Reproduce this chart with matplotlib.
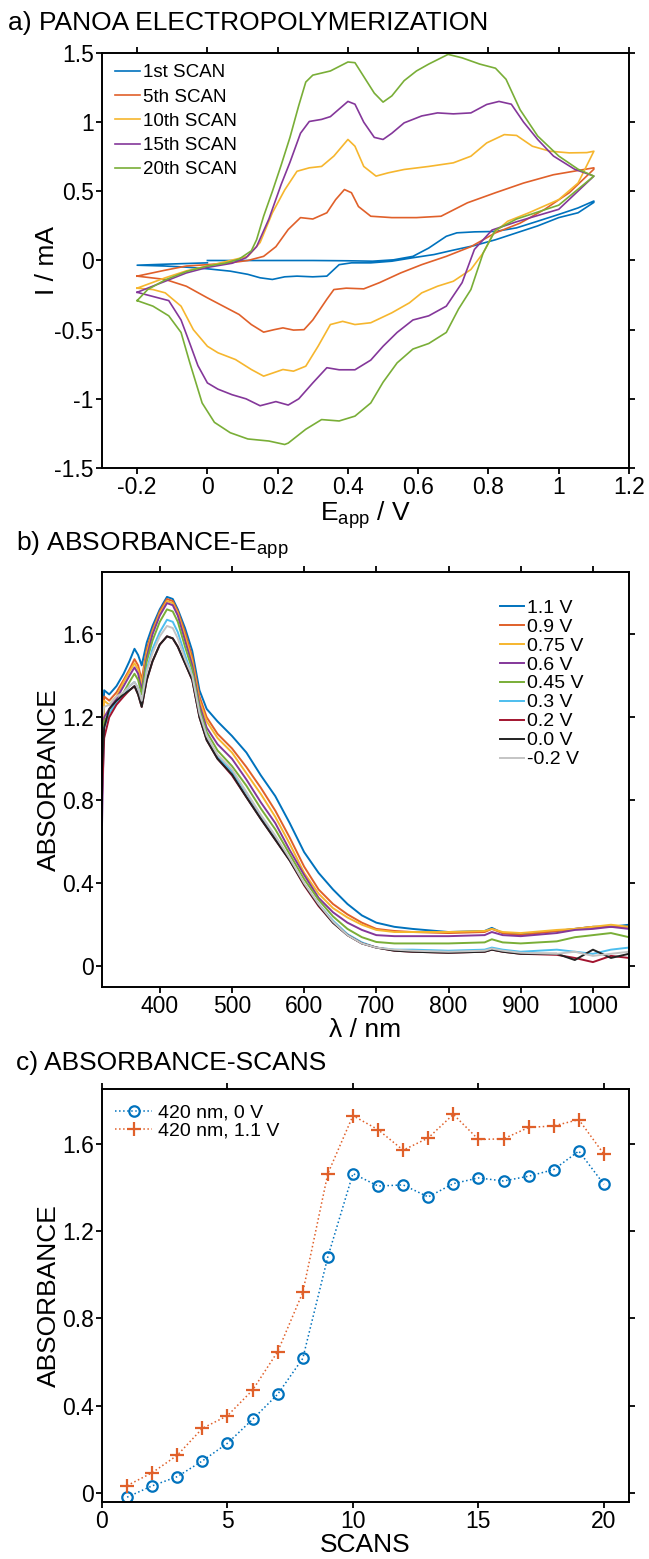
import matplotlib
matplotlib.use("Agg")
import matplotlib.pyplot as plt

plt.rcParams['font.family'] = ['Liberation Sans', 'DejaVu Sans']
plt.rcParams['mathtext.fontset'] = 'custom'
plt.rcParams['mathtext.rm'] = 'Liberation Sans'
plt.rcParams['mathtext.it'] = 'Liberation Sans:italic'
plt.rcParams['axes.unicode_minus'] = False

# ---------------- Panel a data: CV scans (E in V, I in mA) ----------------
scan_labels = ['1st SCAN', '5th SCAN', '10th SCAN', '15th SCAN', '20th SCAN']
scan_colors = ['#0072BD', '#E0602A', '#F6B62E', '#84379A', '#79AE37']

s1_E = [0.0, 0.1, 0.2, 0.3, 0.4, 0.47, 0.53, 0.585, 0.63, 0.68, 0.71, 0.76, 0.82, 0.88, 0.94, 1.0, 1.055, 1.1,
        1.1, 1.055, 1.0, 0.94, 0.88, 0.82, 0.76, 0.70, 0.645, 0.585, 0.525, 0.465, 0.41, 0.375, 0.34, 0.30,
        0.255, 0.22, 0.185, 0.15, 0.115, 0.065, 0.0, -0.06, -0.12, -0.2, -0.1, 0.0]
s1_I = [0.0, 0.0, 0.0, 0.0, -0.002, -0.005, 0.005, 0.03, 0.09, 0.175, 0.20, 0.207, 0.21, 0.236, 0.284, 0.333, 0.38, 0.43,
        0.42, 0.345, 0.31, 0.25, 0.20, 0.15, 0.108, 0.075, 0.043, 0.02, -0.005, -0.017, -0.017, -0.03, -0.113, -0.118,
        -0.113, -0.118, -0.137, -0.125, -0.10, -0.077, -0.06, -0.048, -0.04, -0.034, -0.025, -0.017]

s5_E = [-0.2, -0.12, -0.06, 0.0, 0.065, 0.115, 0.16, 0.195, 0.23, 0.265, 0.30, 0.34, 0.365, 0.39, 0.41, 0.43, 0.465,
        0.525, 0.595, 0.665, 0.74, 0.82, 0.90, 0.985, 1.1,
        1.1, 1.03, 0.96, 0.89, 0.82, 0.75, 0.68, 0.61, 0.55, 0.49, 0.445, 0.395, 0.36, 0.34, 0.30, 0.275, 0.245,
        0.215, 0.19, 0.16, 0.125, 0.09, 0.045, 0.0, -0.06, -0.12, -0.2]
s5_I = [-0.113, -0.07, -0.04, -0.03, -0.017, 0.0, 0.03, 0.10, 0.224, 0.31, 0.30, 0.345, 0.44, 0.513, 0.49, 0.39, 0.32,
        0.31, 0.31, 0.32, 0.417, 0.49, 0.56, 0.62, 0.67,
        0.66, 0.49, 0.37, 0.27, 0.20, 0.10, 0.03, -0.03, -0.09, -0.16, -0.205, -0.20, -0.21, -0.28, -0.43, -0.50, -0.503,
        -0.487, -0.50, -0.518, -0.463, -0.39, -0.33, -0.27, -0.186, -0.137, -0.113]

s10_E = [-0.2, -0.12, -0.06, 0.0, 0.065, 0.115, 0.15, 0.185, 0.22, 0.255, 0.29, 0.325, 0.36, 0.40, 0.42, 0.445, 0.48,
         0.515, 0.56, 0.63, 0.70, 0.75, 0.795, 0.845, 0.88, 0.925, 0.975, 1.03, 1.08, 1.1,
         1.1, 1.055, 1.0, 0.915, 0.855, 0.815, 0.785, 0.75, 0.70, 0.655, 0.61, 0.575, 0.525, 0.465, 0.42, 0.385,
         0.35, 0.315, 0.28, 0.245, 0.215, 0.19, 0.16, 0.125, 0.08, 0.03, 0.0, -0.04, -0.075, -0.12, -0.155, -0.2]
s10_I = [-0.20, -0.125, -0.075, -0.04, 0.0, 0.03, 0.13, 0.345, 0.51, 0.645, 0.67, 0.68, 0.755, 0.875, 0.826, 0.68, 0.61,
         0.634, 0.658, 0.68, 0.706, 0.754, 0.85, 0.91, 0.904, 0.826, 0.79, 0.778, 0.78, 0.79,
         0.79, 0.56, 0.44, 0.345, 0.284, 0.20, 0.055, -0.065, -0.15, -0.186, -0.234, -0.306, -0.378, -0.45, -0.463,
         -0.44, -0.463, -0.62, -0.764, -0.80, -0.788, -0.81, -0.836, -0.788, -0.716, -0.667, -0.62, -0.50, -0.33,
         -0.234, -0.21, -0.20]

s15_E = [-0.2, -0.12, -0.06, 0.0, 0.07, 0.11, 0.14, 0.175, 0.21, 0.235, 0.265, 0.29, 0.325, 0.35, 0.40, 0.42, 0.445,
         0.475, 0.50, 0.525, 0.56, 0.61, 0.655, 0.70, 0.75, 0.795, 0.83, 0.865, 0.90, 0.94, 0.985, 1.045, 1.1,
         1.1, 1.0, 0.88, 0.81, 0.76, 0.725, 0.68, 0.63, 0.585, 0.54, 0.50, 0.465, 0.42, 0.375, 0.34, 0.30, 0.26,
         0.23, 0.195, 0.15, 0.11, 0.07, 0.03, 0.0, -0.027, -0.05, -0.075, -0.11, -0.155, -0.2]
s15_I = [-0.23, -0.15, -0.09, -0.05, -0.02, 0.02, 0.10, 0.30, 0.55, 0.71, 0.92, 1.005, 1.02, 1.04, 1.15, 1.13, 1.0,
         0.89, 0.875, 0.92, 0.995, 1.045, 1.067, 1.06, 1.067, 1.128, 1.15, 1.13, 1.0, 0.875, 0.755, 0.66, 0.61,
         0.61, 0.37, 0.28, 0.22, 0.08, -0.16, -0.33, -0.40, -0.43, -0.52, -0.62, -0.72, -0.79, -0.79, -0.775,
         -0.885, -1.0, -1.045, -1.02, -1.05, -1.0, -0.97, -0.93, -0.885, -0.76, -0.60, -0.43, -0.29, -0.26, -0.23]

s20_E = [-0.2, -0.17, -0.12, -0.06, 0.0, 0.05, 0.09, 0.125, 0.14, 0.16, 0.185, 0.21, 0.235, 0.26, 0.28, 0.30, 0.35,
         0.40, 0.42, 0.445, 0.475, 0.50, 0.525, 0.56, 0.595, 0.63, 0.685, 0.725, 0.775, 0.82, 0.85, 0.89, 0.94,
         1.0, 1.055, 1.1,
         1.1, 1.0, 0.88, 0.82, 0.785, 0.75, 0.715, 0.68, 0.63, 0.585, 0.54, 0.50, 0.465, 0.42, 0.375, 0.325,
         0.28, 0.23, 0.22, 0.175, 0.115, 0.065, 0.02, -0.015, -0.05, -0.075, -0.11, -0.155, -0.2]
s20_I = [-0.29, -0.21, -0.14, -0.08, -0.04, -0.02, 0.01, 0.07, 0.15, 0.32, 0.50, 0.69, 0.89, 1.12, 1.29, 1.34, 1.37,
         1.435, 1.43, 1.33, 1.21, 1.145, 1.19, 1.30, 1.37, 1.42, 1.49, 1.465, 1.42, 1.39, 1.31, 1.09, 0.90,
         0.755, 0.66, 0.61,
         0.61, 0.40, 0.30, 0.22, 0.055, -0.21, -0.35, -0.52, -0.60, -0.64, -0.74, -0.88, -1.03, -1.125, -1.16,
         -1.15, -1.22, -1.32, -1.33, -1.305, -1.29, -1.245, -1.17, -1.03, -0.74, -0.52, -0.40, -0.33, -0.29]

# ---------------- Panel b data: spectra at applied potentials ----------------
wavelength = [320, 323, 330, 340, 350, 358, 365, 370, 375, 382, 390, 400, 410, 418, 425, 435, 445, 455, 465, 480,
              500, 520, 540, 560, 580, 600, 620, 640, 660, 680, 700, 725, 750, 800, 850, 860, 875, 900, 950, 975,
              1000, 1025, 1050]
pot_labels = ['1.1 V', '0.9 V', '0.75 V', '0.6 V', '0.45 V', '0.3 V', '0.2 V', '0.0 V', '-0.2 V']
pot_colors = ['#0072BD', '#E0602A', '#F6B62E', '#84379A', '#79AE37', '#4DBEEE', '#A2142F', '#222222', '#C4C4C4']

abs_1p1 = [1.02, 1.33, 1.31, 1.35, 1.41, 1.47, 1.53, 1.50, 1.45, 1.56, 1.64, 1.72, 1.78, 1.77, 1.72, 1.63, 1.52, 1.33,
           1.24, 1.18, 1.11, 1.03, 0.92, 0.82, 0.69, 0.55, 0.45, 0.37, 0.30, 0.245, 0.21, 0.19, 0.18, 0.165, 0.17,
           0.185, 0.16, 0.155, 0.17, 0.18, 0.19, 0.19, 0.20]
abs_0p9 = [1.05, 1.30, 1.28, 1.32, 1.38, 1.43, 1.48, 1.45, 1.38, 1.53, 1.62, 1.71, 1.77, 1.76, 1.71, 1.61, 1.49, 1.30,
           1.20, 1.12, 1.05, 0.96, 0.86, 0.75, 0.62, 0.48, 0.37, 0.30, 0.25, 0.21, 0.18, 0.17, 0.165, 0.16, 0.165,
           0.18, 0.16, 0.15, 0.17, 0.18, 0.19, 0.19, 0.19]
abs_0p75 = [1.00, 1.28, 1.26, 1.30, 1.37, 1.42, 1.46, 1.43, 1.36, 1.51, 1.61, 1.70, 1.76, 1.75, 1.70, 1.59, 1.47, 1.28,
            1.18, 1.10, 1.03, 0.93, 0.83, 0.72, 0.59, 0.45, 0.35, 0.28, 0.235, 0.20, 0.175, 0.165, 0.165, 0.165,
            0.17, 0.18, 0.165, 0.16, 0.175, 0.18, 0.19, 0.20, 0.19]
abs_0p6 = [0.68, 1.20, 1.24, 1.29, 1.35, 1.40, 1.44, 1.41, 1.33, 1.49, 1.60, 1.69, 1.75, 1.74, 1.69, 1.57, 1.45, 1.26,
           1.15, 1.07, 1.00, 0.90, 0.79, 0.69, 0.56, 0.44, 0.33, 0.26, 0.21, 0.175, 0.15, 0.145, 0.145, 0.145, 0.15,
           0.165, 0.15, 0.145, 0.16, 0.175, 0.18, 0.19, 0.18]
abs_0p45 = [0.95, 1.18, 1.22, 1.27, 1.32, 1.37, 1.41, 1.38, 1.31, 1.47, 1.57, 1.66, 1.72, 1.71, 1.66, 1.54, 1.43, 1.24,
            1.13, 1.04, 0.965, 0.87, 0.76, 0.66, 0.54, 0.42, 0.32, 0.24, 0.18, 0.14, 0.117, 0.11, 0.11, 0.11, 0.115,
            0.13, 0.115, 0.11, 0.12, 0.14, 0.15, 0.16, 0.14]
abs_0p3 = [0.85, 1.15, 1.22, 1.27, 1.31, 1.35, 1.37, 1.34, 1.27, 1.43, 1.53, 1.61, 1.67, 1.66, 1.61, 1.50, 1.40, 1.22,
           1.11, 1.01, 0.94, 0.835, 0.725, 0.625, 0.515, 0.395, 0.30, 0.22, 0.155, 0.115, 0.09, 0.08, 0.08, 0.075,
           0.08, 0.09, 0.08, 0.07, 0.08, 0.07, 0.06, 0.08, 0.09]
abs_0p2 = [0.82, 1.10, 1.20, 1.26, 1.30, 1.33, 1.35, 1.31, 1.25, 1.38, 1.47, 1.55, 1.59, 1.58, 1.54, 1.46, 1.38, 1.20,
           1.09, 1.00, 0.92, 0.815, 0.71, 0.61, 0.51, 0.39, 0.29, 0.21, 0.15, 0.11, 0.09, 0.075, 0.07, 0.065, 0.07,
           0.08, 0.07, 0.06, 0.055, 0.04, 0.02, 0.05, 0.04]
abs_0p0 = [0.95, 1.15, 1.24, 1.28, 1.31, 1.33, 1.35, 1.31, 1.25, 1.38, 1.47, 1.55, 1.59, 1.58, 1.54, 1.46, 1.38, 1.20,
           1.09, 1.00, 0.925, 0.815, 0.71, 0.61, 0.51, 0.395, 0.295, 0.21, 0.15, 0.11, 0.09, 0.075, 0.07, 0.065, 0.07,
           0.08, 0.07, 0.06, 0.06, 0.03, 0.08, 0.04, 0.06]
abs_m0p2 = [1.20, 1.25, 1.26, 1.30, 1.32, 1.35, 1.37, 1.34, 1.28, 1.42, 1.51, 1.59, 1.64, 1.63, 1.58, 1.48, 1.40, 1.22,
            1.11, 1.02, 0.95, 0.84, 0.73, 0.63, 0.52, 0.40, 0.30, 0.215, 0.15, 0.11, 0.09, 0.08, 0.075, 0.07,
            0.075, 0.085, 0.075, 0.065, 0.06, 0.07, 0.05, 0.06, 0.07]

# ---------------- Panel c data: absorbance vs scan ----------------
scans = list(range(1, 21))
abs_420_0V = [-0.018, 0.034, 0.076, 0.148, 0.229, 0.338, 0.453, 0.617, 1.082, 1.463,
              1.406, 1.411, 1.356, 1.417, 1.443, 1.429, 1.451, 1.481, 1.566, 1.414]
abs_420_1p1V = [0.035, 0.094, 0.174, 0.297, 0.355, 0.472, 0.648, 0.919, 1.463, 1.728,
                1.664, 1.570, 1.626, 1.734, 1.619, 1.622, 1.674, 1.681, 1.710, 1.552]

# ---------------- Figure ----------------
W, H = 649, 1559
fig = plt.figure(figsize=(W / 100, H / 100), dpi=100)


def rect(x0, y0, x1, y1):
    return [x0 / W, 1 - y1 / H, (x1 - x0) / W, (y1 - y0) / H]


TICK_FS = 16.5
LABEL_FS = 19
TITLE_FS = 19


def style(ax):
    for s in ax.spines.values():
        s.set_linewidth(1.4)
    ax.tick_params(direction='out', length=4, width=1.3, labelsize=TICK_FS, pad=2,
                   top=True, right=True, labeltop=False, labelright=False)


# Panel a
axa = fig.add_axes(rect(102, 53, 629, 468))
for E, I, c, lab in zip([s1_E, s5_E, s10_E, s15_E, s20_E], [s1_I, s5_I, s10_I, s15_I, s20_I],
                        scan_colors, scan_labels):
    axa.plot(E, I, color=c, lw=1.2, label=lab)
axa.set_xlim(-0.3, 1.2)
axa.set_ylim(-1.5, 1.5)
axa.set_xticks([-0.2, 0, 0.2, 0.4, 0.6, 0.8, 1.0, 1.2])
axa.set_xticklabels(['-0.2', '0', '0.2', '0.4', '0.6', '0.8', '1', '1.2'])
axa.set_yticks([-1.5, -1, -0.5, 0, 0.5, 1, 1.5])
axa.set_yticklabels(['-1.5', '-1', '-0.5', '0', '0.5', '1', '1.5'])
style(axa)
axa.set_xlabel('E$_{\\mathrm{app}}$ / V', fontsize=LABEL_FS, labelpad=0)
axa.set_ylabel('I / mA', fontsize=LABEL_FS, labelpad=-3.5)
axa.legend(loc='upper left', bbox_to_anchor=(0.025, 0.973), frameon=False, fontsize=13.5,
           handlelength=1.35, handletextpad=0.15, labelspacing=0.38, borderpad=0, borderaxespad=0)

# Panel b
axb = fig.add_axes(rect(102, 572, 629, 987))
for y, c, lab in zip([abs_1p1, abs_0p9, abs_0p75, abs_0p6, abs_0p45, abs_0p3, abs_0p2, abs_0p0, abs_m0p2],
                     pot_colors, pot_labels):
    axb.plot(wavelength, y, color=c, lw=1.4, label=lab)
axb.set_xlim(320, 1050)
axb.set_ylim(-0.1, 1.9)
axb.set_xticks([400, 500, 600, 700, 800, 900, 1000])
axb.set_yticks([0, 0.4, 0.8, 1.2, 1.6])
axb.set_yticklabels(['0', '0.4', '0.8', '1.2', '1.6'])
style(axb)
axb.set_xlabel('λ / nm', fontsize=LABEL_FS, labelpad=0)
axb.set_ylabel('ABSORBANCE', fontsize=LABEL_FS, labelpad=0.5)
axb.legend(loc='upper left', bbox_to_anchor=(0.755, 0.935), frameon=False, fontsize=14,
           handlelength=1.25, handletextpad=0.15, labelspacing=0.07, borderpad=0, borderaxespad=0)

# Panel c
axc = fig.add_axes(rect(102, 1089, 629, 1502))
axc.plot(scans, abs_420_0V, color='#0072BD', ls=':', lw=1.1, marker='o', ms=7.5, mfc='none',
         mec='#0072BD', mew=1.6, label='420 nm, 0 V')
axc.plot(scans, abs_420_1p1V, color='#E0602A', ls=':', lw=1.1, marker='+', ms=10, mew=1.6,
         label='420 nm, 1.1 V')
axc.set_xlim(0, 21)
axc.set_ylim(-0.04, 1.85)
axc.set_xticks([0, 5, 10, 15, 20])
axc.set_yticks([0, 0.4, 0.8, 1.2, 1.6])
axc.set_yticklabels(['0', '0.4', '0.8', '1.2', '1.6'])
style(axc)
axc.set_xlabel('SCANS', fontsize=LABEL_FS, labelpad=0)
axc.set_ylabel('ABSORBANCE', fontsize=LABEL_FS, labelpad=0.5)
axc.legend(loc='upper left', bbox_to_anchor=(0.025, 0.963), frameon=False, fontsize=14,
           handlelength=1.9, handletextpad=0.3, labelspacing=0.0, borderpad=0, borderaxespad=0)

# Panel titles
fig.text(8 / W, 1 - 23 / H, 'a) PANOA ELECTROPOLYMERIZATION', fontsize=TITLE_FS, va='center', ha='left')
fig.text(16 / W, 1 - 545 / H, 'b) ABSORBANCE-E$_{\\mathrm{app}}$', fontsize=TITLE_FS, va='center', ha='left')
fig.text(16 / W, 1 - 1063 / H, 'c) ABSORBANCE-SCANS', fontsize=TITLE_FS, va='center', ha='left')

fig.savefig('out.png', dpi=100)
